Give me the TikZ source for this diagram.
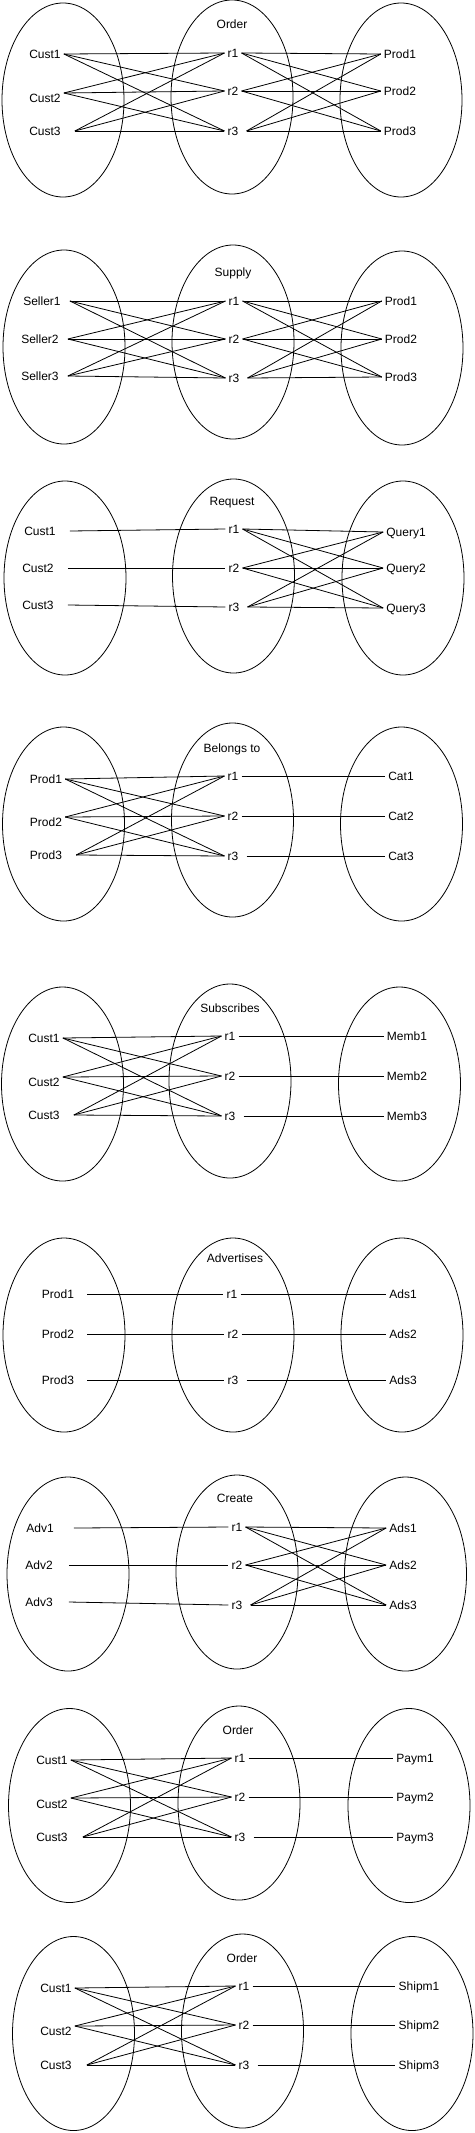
\documentclass[tikz,border=0pt]{standalone}
\usepackage{fontspec}
\setmainfont{Liberation Sans}
\usetikzlibrary{shapes.geometric}
\newcommand\mkrgt[1]{%
  \coordinate (#1r1) at (#1m1.east);
  \coordinate (#1r2) at (#1m2.east);
  \coordinate (#1r3) at ([xshift=5pt]#1m3.east);}
\begin{document}
\begin{tikzpicture}[x=1pt,y=-1pt,
  lbl/.style={font=\fontsize{12}{14}\selectfont, inner sep=3pt, text height=8.6pt, text depth=0pt},
  setell/.style={draw, ellipse, minimum width=122pt, minimum height=194pt, inner sep=0pt, line width=0.8pt},
  edge/.style={line width=0.8pt}]
\useasboundingbox (0,0) rectangle (474,2133);

% ---------- Panel 1 : Order ----------
\node[setell] (p1L) at (63,100) {};
\node[setell] (p1M) at (232,97) {};
\node[setell] (p1R) at (401,100) {};
\node[lbl] (p1t) at (232,24) {Order};
\node[lbl] (p1a1) at (45,54) {Cust1};
\node[lbl] (p1a2) at (45,98) {Cust2};
\node[lbl] (p1a3) at (45,131) {Cust3};
\node[lbl] (p1m1) at (233,53) {r1};
\node[lbl] (p1m2) at (233,91) {r2};
\node[lbl] (p1m3) at (233,131) {r3};
\node[lbl] (p1b1) at (400,54) {Prod1};
\node[lbl] (p1b2) at (400,91) {Prod2};
\node[lbl] (p1b3) at (400,131) {Prod3};
\coordinate (p1e1) at (p1a1.east);
\coordinate (p1e2) at ([yshift=5pt]p1a2.east);
\coordinate (p1e3) at ([xshift=11pt]p1a3.east);
\mkrgt{p1}
\foreach \i in {1,2,3}{\foreach \j in {1,2,3}{
  \draw[edge] (p1e\i) -- (p1m\j.west);
  \draw[edge] (p1r\i) -- (p1b\j.west);}}

% ---------- Panel 2 : Supply ----------
\node[setell] (p2L) at (64,347) {};
\node[setell] (p2M) at (233,342) {};
\node[setell] (p2R) at (402,348) {};
\node[lbl] (p2t) at (233,272) {Supply};
\node[lbl] (p2a1) at (42,301) {Seller1};
\node[lbl] (p2a2) at (40,339) {Seller2};
\node[lbl] (p2a3) at (40,376) {Seller3};
\node[lbl] (p2m1) at (234,301) {r1};
\node[lbl] (p2m2) at (234,339) {r2};
\node[lbl] (p2m3) at (234,378) {r3};
\node[lbl] (p2b1) at (401,301) {Prod1};
\node[lbl] (p2b2) at (401,339) {Prod2};
\node[lbl] (p2b3) at (401,377) {Prod3};
\coordinate (p2e1) at ([xshift=6pt]p2a1.east);
\coordinate (p2e2) at ([xshift=6pt]p2a2.east);
\coordinate (p2e3) at ([xshift=6pt]p2a3.east);
\mkrgt{p2}
\foreach \i in {1,2,3}{\foreach \j in {1,2,3}{
  \draw[edge] (p2e\i) -- (p2m\j.west);
  \draw[edge] (p2r\i) -- (p2b\j.west);}}

% ---------- Panel 3 : Request ----------
\node[setell] (p3L) at (65,578) {};
\node[setell] (p3M) at (233.5,576) {};
\node[setell] (p3R) at (403,578) {};
\node[lbl] (p3t) at (232,501) {Request};
\node[lbl] (p3a1) at (40,531) {Cust1};
\node[lbl] (p3a2) at (38,568) {Cust2};
\node[lbl] (p3a3) at (38,605) {Cust3};
\node[lbl] (p3m1) at (234,529) {r1};
\node[lbl] (p3m2) at (234,568) {r2};
\node[lbl] (p3m3) at (234,607) {r3};
\node[lbl] (p3b1) at (406,532) {Query1};
\node[lbl] (p3b2) at (406,568) {Query2};
\node[lbl] (p3b3) at (406,608) {Query3};
\mkrgt{p3}
\foreach \i in {1,2,3}{
  \draw[edge] ([xshift=11pt]p3a\i.east) -- (p3m\i.west);
  \foreach \j in {1,2,3}{\draw[edge] (p3r\i) -- (p3b\j.west);}}

% ---------- Panel 4 : Belongs to ----------
\node[setell] (p4L) at (63.5,824) {};
\node[setell] (p4M) at (232.5,820) {};
\node[setell] (p4R) at (401.5,824) {};
\node[lbl] (p4t) at (232,748) {Belongs to};
\node[lbl] (p4a1) at (46,779) {Prod1};
\node[lbl] (p4a2) at (46,822) {Prod2};
\node[lbl] (p4a3) at (46,855) {Prod3};
\node[lbl] (p4m1) at (233,776) {r1};
\node[lbl] (p4m2) at (233,816) {r2};
\node[lbl] (p4m3) at (233,856) {r3};
\node[lbl] (p4b1) at (401,776) {Cat1};
\node[lbl] (p4b2) at (401,816) {Cat2};
\node[lbl] (p4b3) at (401,856) {Cat3};
\coordinate (p4e1) at (p4a1.east);
\coordinate (p4e2) at ([yshift=5pt]p4a2.east);
\coordinate (p4e3) at ([xshift=11pt]p4a3.east);
\mkrgt{p4}
\foreach \i in {1,2,3}{
  \draw[edge] (p4r\i) -- (p4b\i.west);
  \foreach \j in {1,2,3}{\draw[edge] (p4e\i) -- (p4m\j.west);}}

% ---------- Panel 5 : Subscribes ----------
\node[setell] (p5L) at (62.5,1084) {};
\node[setell] (p5M) at (230,1081) {};
\node[setell] (p5R) at (399.5,1084) {};
\node[lbl] (p5t) at (230,1008) {Subscribes};
\node[lbl] (p5a1) at (44,1038) {Cust1};
\node[lbl] (p5a2) at (44,1082) {Cust2};
\node[lbl] (p5a3) at (44,1115) {Cust3};
\node[lbl] (p5m1) at (230,1036) {r1};
\node[lbl] (p5m2) at (230,1076) {r2};
\node[lbl] (p5m3) at (230,1116) {r3};
\node[lbl] (p5b1) at (407,1036) {Memb1};
\node[lbl] (p5b2) at (407,1076) {Memb2};
\node[lbl] (p5b3) at (407,1116) {Memb3};
\coordinate (p5e1) at (p5a1.east);
\coordinate (p5e2) at ([yshift=5pt]p5a2.east);
\coordinate (p5e3) at ([xshift=11pt]p5a3.east);
\mkrgt{p5}
\foreach \i in {1,2,3}{
  \draw[edge] (p5r\i) -- (p5b\i.west);
  \foreach \j in {1,2,3}{\draw[edge] (p5e\i) -- (p5m\j.west);}}

% ---------- Panel 6 : Advertises ----------
\node[setell] (p6L) at (64,1335) {};
\node[setell] (p6M) at (233,1335) {};
\node[setell] (p6R) at (402,1335) {};
\node[lbl] (p6t) at (235,1258) {Advertises};
\node[lbl] (p6a1) at (58,1294) {Prod1};
\node[lbl] (p6a2) at (58,1334) {Prod2};
\node[lbl] (p6a3) at (58,1380) {Prod3};
\node[lbl] (p6m1) at (232,1294) {r1};
\node[lbl] (p6m2) at (233,1334) {r2};
\node[lbl] (p6m3) at (233,1380) {r3};
\node[lbl] (p6b1) at (403,1294) {Ads1};
\node[lbl] (p6b2) at (403,1334) {Ads2};
\node[lbl] (p6b3) at (403,1380) {Ads3};
\mkrgt{p6}
\foreach \i in {1,2,3}{
  \draw[edge] ([xshift=10pt]p6a\i.east) -- (p6m\i.west);
  \draw[edge] (p6r\i) -- (p6b\i.west);}

% ---------- Panel 7 : Create ----------
\node[setell] (p7L) at (68,1574) {};
\node[setell] (p7M) at (237,1572) {};
\node[setell] (p7R) at (405.5,1574) {};
\node[lbl] (p7t) at (235,1498) {Create};
\node[lbl] (p7a1) at (40,1528) {Adv1};
\node[lbl] (p7a2) at (39,1565) {Adv2};
\node[lbl] (p7a3) at (39,1602) {Adv3};
\node[lbl] (p7m1) at (237,1527) {r1};
\node[lbl] (p7m2) at (237,1565) {r2};
\node[lbl] (p7m3) at (237,1605) {r3};
\node[lbl] (p7b1) at (403,1528) {Ads1};
\node[lbl] (p7b2) at (403,1565) {Ads2};
\node[lbl] (p7b3) at (403,1605) {Ads3};
\coordinate (p7e1) at ([xshift=17pt]p7a1.east);
\coordinate (p7e2) at ([xshift=13pt]p7a2.east);
\coordinate (p7e3) at ([xshift=13pt]p7a3.east);
\mkrgt{p7}
\foreach \i in {1,2,3}{
  \draw[edge] (p7e\i) -- (p7m\i.west);
  \foreach \j in {1,2,3}{\draw[edge] (p7r\i) -- (p7b\j.west);}}

% ---------- Panel 8 : Order / Paym ----------
\node[setell] (p8L) at (69.5,1805.5) {};
\node[setell] (p8M) at (239,1803) {};
\node[setell] (p8R) at (409,1805.5) {};
\node[lbl] (p8t) at (238,1730) {Order};
\node[lbl] (p8a1) at (52,1760) {Cust1};
\node[lbl] (p8a2) at (52,1804) {Cust2};
\node[lbl] (p8a3) at (52,1837) {Cust3};
\node[lbl] (p8m1) at (240,1758) {r1};
\node[lbl] (p8m2) at (240,1797) {r2};
\node[lbl] (p8m3) at (240,1837) {r3};
\node[lbl] (p8b1) at (415,1758) {Paym1};
\node[lbl] (p8b2) at (415,1797) {Paym2};
\node[lbl] (p8b3) at (415,1837) {Paym3};
\coordinate (p8e1) at (p8a1.east);
\coordinate (p8e2) at ([yshift=6pt]p8a2.east);
\coordinate (p8e3) at ([xshift=12pt]p8a3.east);
\mkrgt{p8}
\foreach \i in {1,2,3}{
  \draw[edge] (p8r\i) -- (p8b\i.west);
  \foreach \j in {1,2,3}{\draw[edge] (p8e\i) -- (p8m\j.west);}}

% ---------- Panel 9 : Order / Shipm ----------
\node[setell] (p9L) at (73.5,2033.5) {};
\node[setell] (p9M) at (242.5,2031) {};
\node[setell] (p9R) at (412,2033.5) {};
\node[lbl] (p9t) at (242,1958) {Order};
\node[lbl] (p9a1) at (56,1988) {Cust1};
\node[lbl] (p9a2) at (56,2031) {Cust2};
\node[lbl] (p9a3) at (56,2065) {Cust3};
\node[lbl] (p9m1) at (244,1986) {r1};
\node[lbl] (p9m2) at (244,2025) {r2};
\node[lbl] (p9m3) at (244,2065) {r3};
\node[lbl] (p9b1) at (419,1986) {Shipm1};
\node[lbl] (p9b2) at (419,2025) {Shipm2};
\node[lbl] (p9b3) at (419,2065) {Shipm3};
\coordinate (p9e1) at (p9a1.east);
\coordinate (p9e2) at ([yshift=5pt]p9a2.east);
\coordinate (p9e3) at ([xshift=12pt]p9a3.east);
\mkrgt{p9}
\foreach \i in {1,2,3}{
  \draw[edge] (p9r\i) -- (p9b\i.west);
  \foreach \j in {1,2,3}{\draw[edge] (p9e\i) -- (p9m\j.west);}}
\end{tikzpicture}
\end{document}
